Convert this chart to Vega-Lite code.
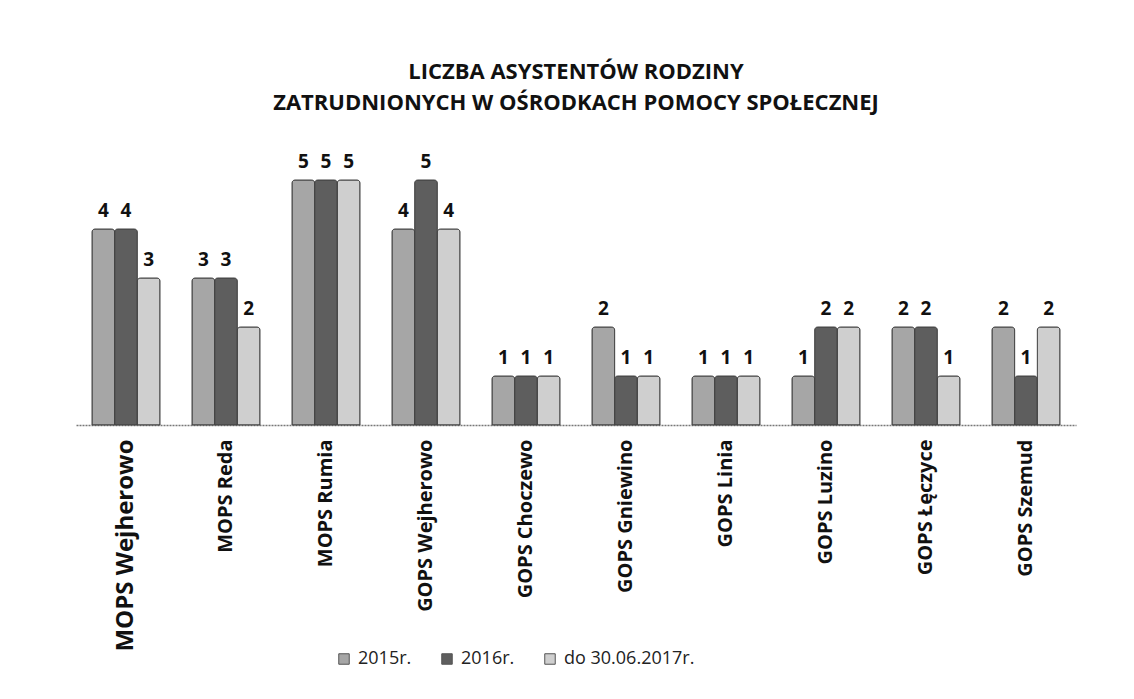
{
  "$schema": "https://vega.github.io/schema/vega-lite/v6.json",
  "autosize": "none",
  "width": 1000,
  "height": 245,
  "padding": {"left": 76, "top": 180, "right": 58, "bottom": 274},
  "background": "white",
  "title": {
    "text": ["LICZBA ASYSTENTÓW RODZINY", "ZATRUDNIONYCH W OŚRODKACH POMOCY SPOŁECZNEJ"],
    "font": "Open Sans",
    "fontSize": 22,
    "fontWeight": "bold",
    "color": "#111",
    "anchor": "middle",
    "offset": 38,
    "lineHeight": 31
  },
  "data": {
    "values": [
      {"osrodek": "MOPS Wejherowo", "okres": "2015r.", "liczba": 4},
      {"osrodek": "MOPS Wejherowo", "okres": "2016r.", "liczba": 4},
      {"osrodek": "MOPS Wejherowo", "okres": "do 30.06.2017r.", "liczba": 3},
      {"osrodek": "MOPS Reda", "okres": "2015r.", "liczba": 3},
      {"osrodek": "MOPS Reda", "okres": "2016r.", "liczba": 3},
      {"osrodek": "MOPS Reda", "okres": "do 30.06.2017r.", "liczba": 2},
      {"osrodek": "MOPS Rumia", "okres": "2015r.", "liczba": 5},
      {"osrodek": "MOPS Rumia", "okres": "2016r.", "liczba": 5},
      {"osrodek": "MOPS Rumia", "okres": "do 30.06.2017r.", "liczba": 5},
      {"osrodek": "GOPS Wejherowo", "okres": "2015r.", "liczba": 4},
      {"osrodek": "GOPS Wejherowo", "okres": "2016r.", "liczba": 5},
      {"osrodek": "GOPS Wejherowo", "okres": "do 30.06.2017r.", "liczba": 4},
      {"osrodek": "GOPS Choczewo", "okres": "2015r.", "liczba": 1},
      {"osrodek": "GOPS Choczewo", "okres": "2016r.", "liczba": 1},
      {"osrodek": "GOPS Choczewo", "okres": "do 30.06.2017r.", "liczba": 1},
      {"osrodek": "GOPS Gniewino", "okres": "2015r.", "liczba": 2},
      {"osrodek": "GOPS Gniewino", "okres": "2016r.", "liczba": 1},
      {"osrodek": "GOPS Gniewino", "okres": "do 30.06.2017r.", "liczba": 1},
      {"osrodek": "GOPS Linia", "okres": "2015r.", "liczba": 1},
      {"osrodek": "GOPS Linia", "okres": "2016r.", "liczba": 1},
      {"osrodek": "GOPS Linia", "okres": "do 30.06.2017r.", "liczba": 1},
      {"osrodek": "GOPS Luzino", "okres": "2015r.", "liczba": 1},
      {"osrodek": "GOPS Luzino", "okres": "2016r.", "liczba": 2},
      {"osrodek": "GOPS Luzino", "okres": "do 30.06.2017r.", "liczba": 2},
      {"osrodek": "GOPS Łęczyce", "okres": "2015r.", "liczba": 2},
      {"osrodek": "GOPS Łęczyce", "okres": "2016r.", "liczba": 2},
      {"osrodek": "GOPS Łęczyce", "okres": "do 30.06.2017r.", "liczba": 1},
      {"osrodek": "GOPS Szemud", "okres": "2015r.", "liczba": 2},
      {"osrodek": "GOPS Szemud", "okres": "2016r.", "liczba": 1},
      {"osrodek": "GOPS Szemud", "okres": "do 30.06.2017r.", "liczba": 2}
    ]
  },
  "encoding": {
    "x": {
      "field": "osrodek",
      "type": "nominal",
      "sort": null,
      "title": null,
      "scale": {"paddingInner": 0.32, "paddingOuter": 0.16},
      "axis": {
        "labelAngle": -90,
        "labelFont": "Open Sans",
        "labelFontWeight": "bold",
        "labelFontSize": {"condition": {"test": "datum.value == 'MOPS Wejherowo'", "value": 24}, "value": 20},
        "labelLimit": 400,
        "labelColor": "#111",
        "labelPadding": 14,
        "ticks": false,
        "domainColor": "#777",
        "domainDash": [2, 1],
        "domainWidth": 1.5
      }
    },
    "xOffset": {"field": "okres", "type": "nominal", "scale": {"paddingInner": 0, "paddingOuter": 0}},
    "y": {
      "field": "liczba",
      "type": "quantitative",
      "scale": {"domain": [0, 5]},
      "axis": null
    }
  },
  "layer": [
    {
      "mark": {"type": "bar", "stroke": "#444", "strokeWidth": 1, "cornerRadiusTopLeft": 3, "cornerRadiusTopRight": 3},
      "encoding": {
        "color": {
          "field": "okres",
          "type": "nominal",
          "scale": {"domain": ["2015r.", "2016r.", "do 30.06.2017r."], "range": ["#a6a6a6", "#5e5e5e", "#cfcfcf"]},
          "legend": {
            "orient": "none",
            "legendX": 259,
            "legendY": 470,
            "direction": "horizontal",
            "title": null,
            "symbolType": "square",
            "symbolSize": 110,
            "symbolStrokeColor": "#555",
            "symbolStrokeWidth": 1,
            "labelFont": "Open Sans",
            "labelFontSize": 18,
            "labelColor": "#222",
            "columnPadding": 26,
            "labelOffset": 5
          }
        }
      }
    },
    {
      "mark": {"type": "text", "baseline": "bottom", "dy": -8, "font": "Open Sans", "fontSize": 19, "fontWeight": "bold", "color": "#111"},
      "encoding": {"text": {"field": "liczba", "type": "quantitative"}}
    }
  ],
  "config": {"view": {"stroke": null}}
}
